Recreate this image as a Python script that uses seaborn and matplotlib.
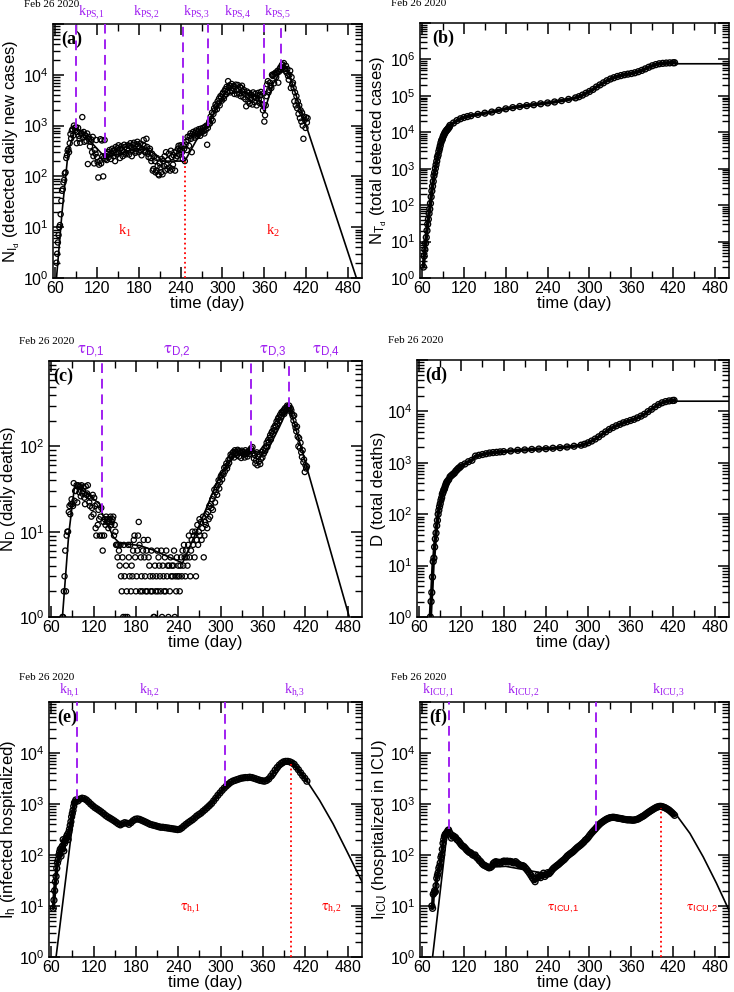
import numpy as np
import pandas as pd
import matplotlib
matplotlib.use("Agg")
import matplotlib.pyplot as plt
import matplotlib.transforms as mtrans
from matplotlib.ticker import MultipleLocator, LogLocator, FuncFormatter, NullFormatter
import seaborn as sns

# ---------------------------------------------------------------- data
# (a) detected daily new cases (day of year 2020, starting at day 62)
a_day = list(range(62, 423))
a_new = [2, 3, 5, 7, 10, 11, 18, 33, 52, 56,
         76, 85, 115, 120, 230, 260, 320, 345, 300, 450,
         680, 560, 790, 850, 640, 1000, 900, 820, 930, 450,
         750, 900, 630, 550, 460, 700, 720, 1470, 580, 750,
         480, 650, 620, 500, 700, 175, 600, 540, 390, 480,
         530, 300, 600, 250, 180, 330, 280, 520, 240, 190,
         95, 170, 200, 540, 180, 510, 250, 100, 230, 520,
         220, 250, 210, 280, 300, 240, 330, 270, 220, 290,
         350, 310, 250, 330, 200, 380, 300, 270, 360, 410,
         290, 230, 350, 390, 330, 250, 300, 420, 380, 270,
         290, 350, 410, 320, 270, 400, 450, 380, 250, 330,
         420, 460, 350, 290, 310, 430, 480, 390, 300, 370,
         440, 330, 260, 350, 420, 520, 400, 300, 320, 550,
         380, 280, 240, 320, 350, 230, 200, 280, 130, 140,
         250, 200, 120, 130, 230, 160, 110, 105, 180, 150,
         120, 220, 110, 200, 160, 250, 130, 300, 170, 140,
         210, 280, 150, 130, 320, 240, 140, 170, 260, 300,
         130, 230, 310, 250, 350, 400, 280, 330, 410, 380,
         300, 220, 400, 350, 200, 420, 480, 330, 600, 520,
         400, 620, 700, 550, 300, 680, 750, 640, 580, 720,
         800, 690, 620, 760, 850, 700, 630, 870, 800, 750,
         900, 780, 700, 950, 820, 1000, 420, 900, 1050, 1200,
         1100, 1500, 1350, 1800, 1250, 1700, 2200, 2000, 2600, 2400,
         2100, 3000, 2700, 3400, 2500, 3800, 3600, 3100, 4200, 4500,
         3400, 4800, 5200, 4100, 5800, 4600, 7500, 5600, 6200, 4500,
         5900, 6600, 4800, 5400, 6000, 4200, 5700, 6400, 5000, 4100,
         6300, 5200, 4300, 5800, 3800, 5500, 6100, 4700, 3600, 5000,
         4200, 3300, 2400, 4700, 3900, 3000, 4400, 2700, 3500, 4100,
         3200, 2600, 4500, 3700, 2900, 4200, 3500, 2500, 3900, 4400,
         3300, 2800, 4000, 4600, 3200, 2600, 2000, 4300, 1200, 1600,
         2500, 3800, 6500, 7500, 4500, 5000, 7000, 6000, 5500, 10000,
         9500, 10200, 6800, 10500, 11000, 9000, 10800, 12000, 7000, 11500,
         13000, 14000, 12500, 15500, 16000, 14000, 17000, 13000, 12000, 15000,
         11000, 13000, 9500, 8000, 10000, 12000, 5500, 9000, 6500, 7000,
         5500, 3000, 4500, 2500, 3800, 2200, 3000, 1700, 2500, 1400,
         2000, 1200, 1800, 1000, 550, 1500, 1300, 900, 1450, 1150,
         1400]
a_fit_day = [62, 70, 79, 90, 100, 115, 132, 150, 175, 195, 215, 246, 262, 280, 295, 310,
             330, 350, 360, 372, 384, 392, 492]
a_fit_val = [1, 20, 330, 900, 700, 420, 235, 270, 350, 330, 200, 200, 500, 1200, 2600, 4300,
             4600, 3700, 1900, 6500, 12000, 14500, 1]
a_ps_day = [90, 132, 243, 279, 359, 384]
a_ps_low = [900, 235, 200, 1000, 2000, 13000]
a_ps_lab_day = [93, 172, 243, 302, 359]
a_ps_lab = ["PS{,}1", "PS{,}2", "PS{,}3", "PS{,}4", "PS{,}5"]
a_red_day = [246]
a_red_high = [200]
a_k_day = [150, 362]
a_k_lab = ["1", "2"]

# (b) total detected cases
b_day = [62, 63, 64, 65, 66, 67, 68, 69, 70, 71, 72, 73, 74, 75, 76, 77, 78, 79, 80, 81,
         82, 83, 84, 85, 86, 87, 88, 89, 90, 91, 92, 93, 94, 95, 96, 97, 98, 99, 100,
         105, 110, 115, 120, 125, 130, 140, 150, 160, 170, 180, 190, 200, 210, 220, 230,
         240, 250, 260, 270, 280, 285, 290, 295, 300, 305, 310, 315, 320, 325, 330, 335,
         340, 345, 350, 355, 360, 365, 370, 375, 380, 385, 390, 395, 400, 405, 410, 415,
         420, 422]
b_tot = [2, 4, 6, 9, 13, 20, 30, 41, 59, 78, 112, 169, 245, 331, 448, 642, 785, 1020, 1280, 1600,
         2060, 2362, 2995, 3544, 4268, 5170, 5962, 6408, 7443, 8251, 9034, 9886, 10524, 11278,
         11730, 12442, 13141, 13956, 15472,
         18000, 21000, 23500, 25500, 27000, 28500, 31000, 33500, 36000, 40000, 44000, 47500,
         51000, 54000, 57000, 60500, 64000, 68000, 74000, 80000, 88000, 95000, 105000, 118000,
         132000, 150000, 175000, 200000, 228000, 260000, 290000, 315000, 340000, 360000,
         380000, 395000, 410000, 430000, 460000, 500000, 550000, 610000, 670000, 720000,
         760000, 780000, 795000, 805000, 810000, 812000]
b_fit_day = [422, 426, 500]
b_fit_val = [812000, 760000, 760000]

# (c) daily deaths
c_day = list(range(76, 423))
c_dth = [1, 1, 2, 3, 6, 2, 9, 10, 10, 17,
         20, 16, 21, 24, 21, 20, 37, 23, 30, 30,
         35, 22, 35, 34, 29, 34, 26, 35, 28, 30,
         33, 25, 21, 34, 27, 28, 35, 26, 22, 20,
         25, 15, 19, 27, 16, 25, 20, 11, 9, 21,
         12, 18, 14, 9, 15, 19, 9, 6, 13, 9,
         14, 12, 15, 13, 14, 11, 13, 14, 15, 12,
         13, 14, 15, 9, 12, 10,
         7, 7, 5, 7, 6, 4, 7, 3, 2, 5,
         1, 7, 3, 1, 4, 2, 1, 7, 5, 3,
         7, 2, 4, 3, 6, 8, 9, 5, 2, 3,
         6, 9, 13, 7, 2, 5, 3, 2, 6, 8,
         5, 3, 2, 6, 2, 8, 5, 4, 3, 2,
         6, 2, 3, 1, 1, 4, 2, 3, 6, 2,
         5, 4, 3, 2, 6, 1, 4, 3, 2, 5,
         2, 6, 3, 4, 1, 4, 2, 5, 3, 4,
         3, 4, 6, 1, 3, 2, 5, 3, 4, 3,
         2, 4, 5, 3, 6, 4, 7, 5, 3, 6,
         5, 4, 7, 9, 5, 3, 6, 8, 10, 7,
         9, 5, 10, 3, 8, 12, 7, 10, 14, 9,
         13, 8, 11, 15, 5, 9, 13, 12, 16, 11,
         17, 14, 20, 15, 21, 19, 24, 18, 26, 31,
         22, 29, 33, 27, 35, 40, 32, 38, 44, 46,
         41, 49, 47, 56, 51, 58, 63, 55, 60, 69,
         64, 72, 80, 75, 78, 84, 86, 74, 90, 82,
         85, 79, 91, 87, 76, 88, 84, 73, 89, 83,
         86, 80, 74, 90, 81, 85, 76, 87, 89, 81,
         90, 95, 88, 98, 83, 72, 79, 63, 68, 85,
         60, 75, 66, 80, 62, 71, 86, 74, 90, 82,
         95, 88, 100, 110, 98, 118, 112, 125, 135, 120,
         145, 150, 140, 165, 155, 175, 170, 195, 185, 210,
         218, 200, 234, 221, 250, 245, 255, 265, 240, 280,
         260, 285, 300, 290, 275, 300, 260, 280, 265, 240,
         225, 200, 230, 180, 165, 150, 170, 130, 100, 125,
         96, 110, 85, 75, 90, 65, 70, 50, 60, 55,
         58]
c_fit_day = [76, 85, 93, 100, 129, 132, 148, 157, 185, 204, 246, 270, 298, 317, 343, 364,
             383, 397, 482]
c_fit_val = [1, 9.5, 33, 33, 21, 16.6, 8.7, 7.3, 6.9, 6.1, 4.3, 12, 44, 75, 89, 82, 168, 300, 1]
c_tau_day = [132, 343, 397]
c_tau_low = [16.6, 89, 290]
c_tau_lab_day = [96, 218, 354, 429]
c_tau_lab = ["D{,}1", "D{,}2", "D{,}3", "D{,}4"]

# (d) total deaths
d_day = [76, 77, 78, 79, 80, 81, 82, 83, 84, 85, 86, 87, 88, 89, 90, 91, 92, 93, 94, 95, 96,
         97, 98, 99, 100, 102, 104, 106, 108, 110, 112, 114, 116, 118, 120, 125, 130, 135,
         140, 145, 150, 155, 160, 165, 170, 175, 180, 190, 200, 210, 220, 230, 240, 250, 260,
         270, 280, 290, 295, 300, 305, 310, 315, 320, 325, 330, 335, 340, 345, 350, 355, 360,
         365, 370, 375, 380, 385, 390, 395, 400, 405, 410, 415, 420, 422]
d_tot = [1, 2, 3, 6, 12, 14, 23, 33, 43, 60, 76, 100, 119, 140, 160, 187, 209, 246, 266, 295,
         311, 345, 380, 409, 435, 470, 535, 567, 599, 629, 687, 735, 785, 820, 880, 950, 1050,
         1120, 1350, 1400, 1450, 1500, 1550, 1580, 1600, 1630, 1650, 1700, 1750, 1780, 1820,
         1850, 1880, 1920, 1970, 2030, 2100, 2200, 2300, 2450, 2650, 2900, 3200, 3600, 4000,
         4450, 4850, 5250, 5600, 6000, 6300, 6650, 7000, 7500, 8100, 8800, 9900, 11000,
         12300, 13600, 14700, 15500, 16000, 16300, 16400]
d_fit_day = [422, 426, 500]
d_fit_val = [16400, 15800, 15800]

# (e) infected hospitalized
e_day = [63, 64, 65, 66, 67, 68, 69, 70, 71, 72, 73, 74, 75, 76, 77, 78, 79, 80, 81, 82, 83,
         84, 85, 86, 87, 88, 89, 90, 91, 92, 93, 94, 95,
         98, 101, 104, 107, 110, 113, 116, 119, 122, 125, 128, 131, 134, 137, 140, 143, 146,
         149, 152, 155, 158, 161, 164, 167, 170, 173, 176, 179, 182, 185, 188, 191, 194, 197,
         200, 203, 206, 209, 212, 215, 218, 221, 224, 227, 230, 233, 236, 239, 242, 245, 248,
         251, 254, 257, 260, 263, 266, 269, 272, 275, 278, 281, 284, 287, 290, 293, 296, 299,
         302, 305, 308, 311, 314, 317, 320, 323, 326, 329, 332, 335, 338, 341, 344, 347, 350,
         353, 356, 359, 362, 365, 368, 371, 374, 377, 380, 383, 386, 389, 392, 395, 398, 401,
         404, 407, 410, 413, 416, 419, 422]
e_hosp = [9, 13, 20, 30, 38, 55, 70, 80, 100, 115, 130, 95, 140, 150, 200, 120, 170, 190, 210,
          230, 250, 200, 280, 320, 380, 450, 560, 650, 750, 900, 1050, 1100, 1200,
          1150, 1250, 1300, 1270, 1200, 1100, 1000, 920, 850, 800, 750, 700, 650, 600, 560,
          530, 500, 470, 440, 410, 390, 410, 430, 420, 400, 430, 470, 500, 510, 500, 480,
          460, 440, 420, 400, 390, 380, 370, 360, 350, 350, 345, 340, 335, 330, 325, 320,
          315, 320, 340, 370, 400, 430, 460, 490, 530, 580, 620, 660, 720, 780, 850, 930,
          1020, 1150, 1300, 1480, 1650, 1850, 2050, 2250, 2450, 2650, 2800, 2900, 3000, 3100,
          3200, 3250, 3300, 3300, 3350, 3300, 3200, 3100, 3000, 2900, 2850, 2800, 2900, 3100,
          3500, 4000, 4600, 5200, 5800, 6300, 6700, 6850, 6850, 6700, 6400, 6000, 5300, 4700,
          4100, 3600, 3200, 2800]
e_fit_day = [67, 94, 104, 125, 158, 180, 200, 240, 270, 300, 320, 340, 365, 375, 385, 395,
             405, 423, 440, 459, 478, 500]
e_fit_val = [1, 1050, 1280, 780, 400, 500, 400, 320, 620, 1750, 2900, 3300, 2850, 3300, 5300,
             6500, 5800, 2700, 1180, 410, 123, 30]
e_k_day = [97, 306]
e_k_low = [1270, 2300]
e_k_lab_day = [71, 185, 390]
e_k_lab = ["h{,}1", "h{,}2", "h{,}3"]
e_red_day = [400]
e_red_high = [6200]
e_tau_day = [242, 442]
e_tau_lab = ["h{,}1", "h{,}2"]

# (f) hospitalized in ICU
f_day = [74, 75, 76, 77, 78, 79, 80, 81, 82, 83, 84, 85, 86, 87, 88, 89, 90, 91, 92, 93, 94,
         95, 96, 97, 98, 100, 102, 104, 106, 108, 110, 112, 114, 116, 118, 120, 122, 124, 126,
         128, 130, 132, 134, 136, 138, 140, 142, 144, 146, 148, 150, 152, 154, 156, 158, 160,
         162, 164, 166, 168, 170, 172, 174, 176, 178, 180, 182, 184, 186, 188, 190, 192, 194,
         196, 198, 200, 202, 204, 206, 208, 210, 212, 214, 216, 218, 220, 222, 224, 226, 228,
         230, 232, 234, 236, 238, 240, 242, 244, 246, 248, 250, 252, 254, 256, 258, 260, 262,
         264, 266, 268, 270, 272, 274, 276, 278, 280, 282, 284, 286, 288, 290, 292, 294, 296,
         298, 300, 302, 304, 306, 308, 310, 312, 314, 316, 318, 320, 322, 324, 326, 328, 330,
         332, 334, 336, 338, 340, 342, 344, 346, 348, 350, 352, 354, 356, 358, 360, 362, 364,
         366, 368, 370, 372, 374, 376, 378, 380, 382, 384, 386, 388, 390, 392, 394, 396, 398,
         400, 402, 404, 406, 408, 410, 412, 414, 416, 418, 420, 422]
f_icu = [10, 9, 17, 18, 20, 19, 25, 35, 40, 45, 55, 60, 70, 90, 100, 130, 170, 200, 230, 250,
         260, 270, 280, 300, 310, 270, 215, 240, 230, 220, 200, 190, 175, 160, 150, 145, 135,
         125, 118, 112, 110, 102, 98, 100, 90, 85, 78, 74, 68, 64, 62, 60, 58, 56, 57, 60, 68,
         72, 74, 70, 72, 68, 72, 75, 76, 74, 76, 73, 75, 74, 71, 70, 74, 70, 66, 64, 62, 62,
         60, 56, 52, 48, 44, 40, 36, 33, 30, 35, 40, 38, 36, 40, 44, 38, 41, 45, 43, 46, 50,
         54, 57, 60, 63, 66, 70, 74, 78, 82, 88, 95, 100, 105, 110, 115, 122, 130, 138, 145,
         152, 160, 170, 180, 195, 205, 220, 240, 260, 280, 300, 320, 345, 370, 395, 420, 440,
         460, 480, 500, 515, 530, 540, 545, 550, 545, 540, 530, 525, 520, 515, 505, 500, 495,
         490, 488, 490, 485, 480, 485, 490, 500, 510, 530, 550, 570, 590, 620, 650, 680, 710,
         740, 770, 800, 830, 860, 880, 895, 900, 890, 870, 850, 820, 790, 760, 720, 680, 640,
         600]
f_fit_day = [75, 96, 110, 130, 150, 160, 180, 230, 240, 260, 290, 309, 330, 345, 370, 390,
             402, 425, 444, 463, 482, 501]
f_fit_val = [1, 290, 200, 110, 62, 58, 60, 45, 42, 75, 170, 300, 540, 520, 480, 760, 880, 600,
             265, 92, 28, 7.7]
f_k_day = [98, 309]
f_k_low = [330, 290]
f_k_lab_day = [60, 182, 389]
f_k_lab = ["ICU{,}1", "ICU{,}2", "ICU{,}3"]
f_red_day = [403]
f_red_high = [830]
f_tau_day = [239, 439]
f_tau_lab = ["ICU{,}1", "ICU{,}2"]

# ---------------------------------------------------------------- style
sns.set_theme(style="ticks")
plt.rcParams["font.family"] = ["Liberation Sans", "DejaVu Sans"]
plt.rcParams["mathtext.fontset"] = "stix"
plt.rcParams.update({
    "axes.edgecolor": "black", "axes.linewidth": 1.1,
    "xtick.color": "black", "ytick.color": "black",
    "text.color": "black", "axes.labelcolor": "black",
})

PURPLE = "#a020f0"
RED = "#ff0000"
SERIF = ["Liberation Serif", "DejaVu Serif"]
SANS = ["Liberation Sans", "DejaVu Sans"]
W, H = 734, 992
fig = plt.figure(figsize=(W / 100, H / 100), dpi=100)


def make_ax(l, t, r, b):
    return fig.add_axes([l / W, 1 - b / H, (r - l) / W, (b - t) / H])


def setup(ax, ytop, maxexp, ylabel, letter, letter_dx, date_y=1.075):
    ax.set_yscale("log")
    ax.set_xlim(57, 500)
    ax.set_ylim(1, ytop)
    ax.xaxis.set_major_locator(MultipleLocator(60))
    ax.xaxis.set_minor_locator(MultipleLocator(30))
    ax.yaxis.set_major_locator(LogLocator(base=10, numticks=30))
    ax.yaxis.set_minor_locator(LogLocator(base=10, subs=np.arange(2, 10), numticks=30))
    ax.yaxis.set_minor_formatter(NullFormatter())

    def f(v, p):
        if v <= 0:
            return ""
        e = np.log10(v)
        if abs(e - round(e)) > 1e-6 or round(e) > maxexp:
            return ""
        return r"$\mathregular{10^{%d}}$" % round(e)
    ax.yaxis.set_major_formatter(FuncFormatter(f))
    ax.tick_params(which="both", direction="in", top=True, right=True, labelsize=11.5)
    ax.tick_params(axis="x", which="major", length=8, width=1.1, pad=2)
    ax.tick_params(axis="y", which="major", length=8, width=1.1, pad=3)
    ax.tick_params(which="minor", length=5, width=1.0)
    ax.set_xlabel("time (day)", fontsize=12, labelpad=0)
    ax.set_ylabel(ylabel, fontsize=12, labelpad=1)
    ax.text(letter_dx, 0.975, letter, transform=ax.transAxes, ha="left", va="top",
            fontsize=13, fontweight="bold", family=SERIF)
    ax.text(-0.006, date_y, "Feb 26 2020", transform=ax.transAxes, ha="center",
            va="center", fontsize=8, family=SERIF)


def pts(ax, x, y, s=14, lw=0.9):
    sns.scatterplot(x=x, y=y, ax=ax, marker="o", s=s, color="black",
                    facecolors="none", edgecolor="black", linewidth=lw,
                    legend=False, zorder=3)


def line(ax, x, y, lw=1.2):
    sns.lineplot(x=x, y=y, ax=ax, color="black", lw=lw, estimator=None,
                 sort=False, legend=False, zorder=4)


def top_labels(ax, days, labs, fmt, family, size):
    tr = mtrans.blended_transform_factory(ax.transData, ax.transAxes)
    for d, lab in zip(days, labs):
        ax.text(d, 1.008, fmt % lab, transform=tr, ha="left", va="bottom",
                color=PURPLE, fontsize=size, family=family)


# ---------------------------------------------------------------- (a)
ax = make_ax(53, 24, 362, 278)
setup(ax, 1e5, 4, r"$\mathregular{N_{I_d}}$ (detected daily new cases)", "(a)", 0.026)
pts(ax, a_day, a_new)
line(ax, a_fit_day, a_fit_val)
ax.vlines(a_ps_day, a_ps_low, 1e5, colors=PURPLE, linestyles=(0, (5, 3)), lw=1.4, zorder=5)
ax.vlines(a_red_day, 1, a_red_high, colors=RED, linestyles=":", lw=1.3, zorder=5)
top_labels(ax, a_ps_lab_day, a_ps_lab, r"$\mathregular{k_{%s}}$", SERIF, 10)
for d, lab in zip(a_k_day, a_k_lab):
    ax.text(d, 8.5, r"$\mathregular{k_{%s}}$" % lab, ha="left", va="center",
            color=RED, fontsize=10.5, family=SERIF)

# ---------------------------------------------------------------- (b)
ax = make_ax(420, 23, 729, 278)
setup(ax, 1e7, 6, r"$\mathregular{N_{T_d}}$ (total detected cases)", "(b)", 0.04)
line(ax, b_day, b_tot, lw=2.5)
pts(ax, b_day, b_tot, s=18, lw=1.0)
line(ax, b_fit_day, b_fit_val)

# ---------------------------------------------------------------- (c)
ax = make_ax(49, 361, 362, 617)
setup(ax, 1e3, 2, r"$\mathregular{N_D}$ (daily deaths)", "(c)", 0.013)
pts(ax, c_day, c_dth)
line(ax, c_fit_day, c_fit_val)
ax.vlines(c_tau_day, c_tau_low, 1e3, colors=PURPLE, linestyles=(0, (5, 3)), lw=1.4, zorder=5)
top_labels(ax, c_tau_lab_day, c_tau_lab, r"$\mathrm{\tau}_{\mathregular{%s}}$", SANS, 12)

# ---------------------------------------------------------------- (d)
ax = make_ax(417, 360, 729, 617)
setup(ax, 1e5, 4, "D (total deaths)", "(d)", 0.026)
line(ax, d_day, d_tot, lw=2.5)
pts(ax, d_day, d_tot, s=18, lw=1.0)
line(ax, d_fit_day, d_fit_val)

# ---------------------------------------------------------------- (e)
ax = make_ax(49, 702, 362, 957)
setup(ax, 1e5, 4, r"$\mathregular{I_h}$ (infected hospitalized)", "(e)", 0.026, date_y=1.095)
line(ax, e_day, e_hosp, lw=2.5)
pts(ax, e_day, e_hosp, s=18, lw=1.0)
line(ax, e_fit_day, e_fit_val)
ax.vlines(e_k_day, e_k_low, 1e5, colors=PURPLE, linestyles=(0, (5, 3)), lw=1.4, zorder=5)
ax.vlines(e_red_day, 1, e_red_high, colors=RED, linestyles=":", lw=1.3, zorder=5)
top_labels(ax, e_k_lab_day, e_k_lab, r"$\mathregular{k_{%s}}$", SERIF, 10)
for d, lab in zip(e_tau_day, e_tau_lab):
    ax.text(d, 9, r"$\mathrm{\tau}_{\mathregular{%s}}$" % lab, ha="left", va="center",
            color=RED, fontsize=10, family=SERIF)

# ---------------------------------------------------------------- (f)
ax = make_ax(420, 702, 729, 957)
setup(ax, 1e5, 4, r"$\mathregular{I_{ICU}}$ (hospitalized in ICU)", "(f)", 0.029, date_y=1.095)
line(ax, f_day, f_icu, lw=2.5)
pts(ax, f_day, f_icu, s=18, lw=1.0)
line(ax, f_fit_day, f_fit_val)
ax.vlines(f_k_day, f_k_low, 1e5, colors=PURPLE, linestyles=(0, (5, 3)), lw=1.4, zorder=5)
ax.vlines(f_red_day, 1, f_red_high, colors=RED, linestyles=":", lw=1.3, zorder=5)
top_labels(ax, f_k_lab_day, f_k_lab, r"$\mathregular{k_{%s}}$", SERIF, 10)
for d, lab in zip(f_tau_day, f_tau_lab):
    ax.text(d, 9, r"$\mathrm{\tau}_{\mathregular{%s}}$" % lab, ha="left", va="center",
            color=RED, fontsize=9.5, family=SANS)

fig.savefig("out.png", dpi=100)
